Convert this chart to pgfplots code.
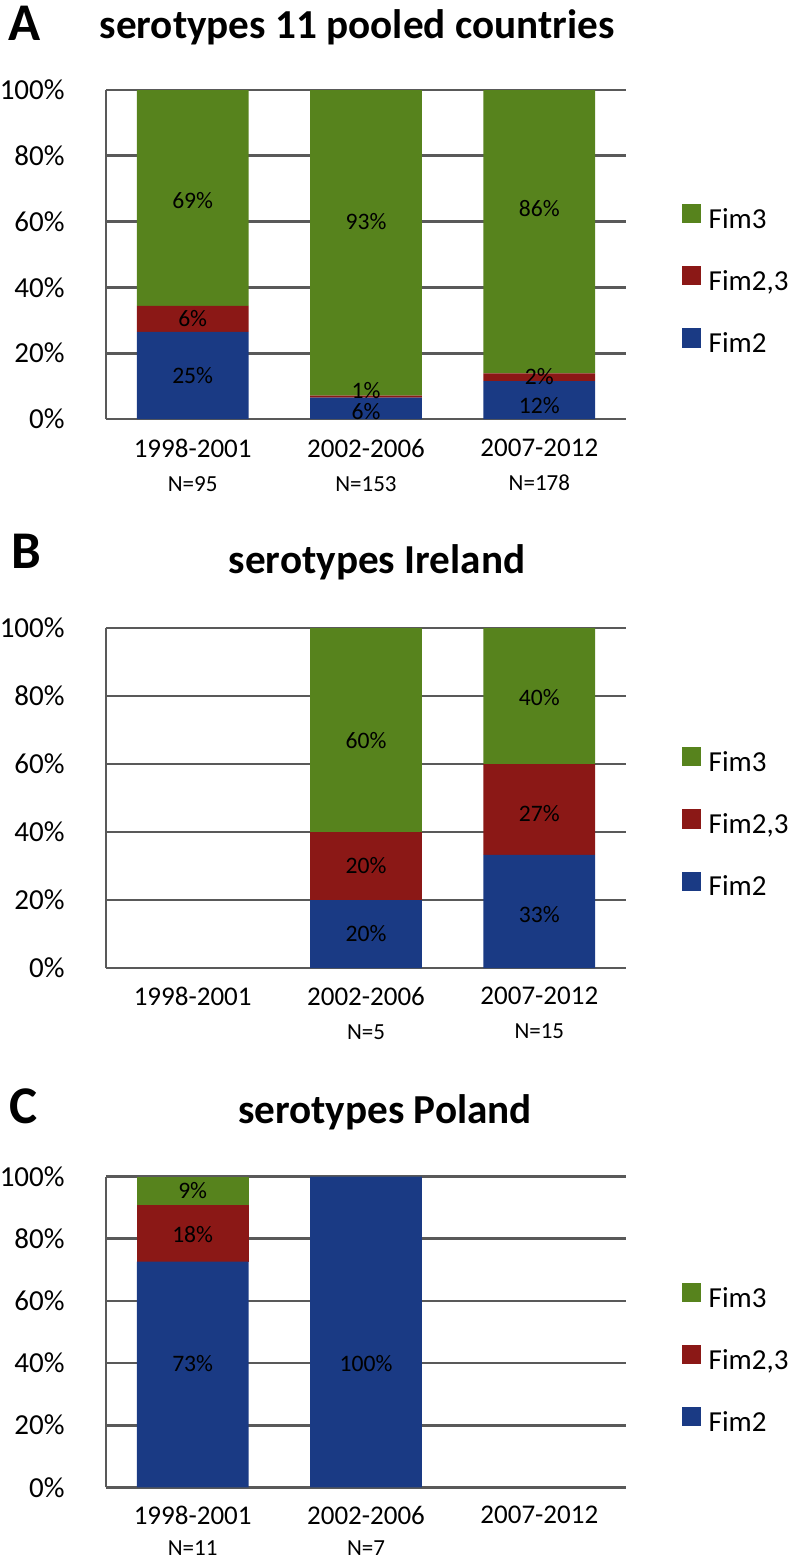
\documentclass[border=0pt]{standalone}
\usepackage{fontspec}
\setmainfont{Carlito}
\usepackage{pgfplots}
\pgfplotsset{compat=1.18}
\definecolor{fimgreen}{RGB}{87,131,29}
\definecolor{fimred}{RGB}{139,24,22}
\definecolor{fimblue}{RGB}{26,58,132}
\definecolor{gridc}{RGB}{89,89,89}
\newcommand\nsz{\fontsize{11.5}{17}\selectfont}
\newcommand\nszc{\fontsize{11.5}{15.5}\selectfont}
\pgfplotsset{
  fimlegend/.style={legend image code/.code={\fill[##1] (0pt,0pt) rectangle (9.6pt,9.6pt);}},
  fimaxis/.style={
    anchor=south west, scale only axis, width=260pt,
    xmin=-0.5, xmax=2.5, ymin=0, ymax=100,
    axis lines*=left,
    axis line style={draw=gridc, line width=1.4pt},
    ymajorgrids, grid style={draw=gridc, line width=1.4pt},
    xtick={0,1,2}, ytick={0,20,40,60,80,100},
    yticklabels={0\%,20\%,40\%,60\%,80\%,100\%},
    major tick length=0pt,
    yticklabel style={font=\fontsize{14.5}{16}\selectfont, anchor=east, inner sep=0pt, xshift=-20.5pt},
    xticklabel style={font=\fontsize{13.5}{17}\selectfont, align=center, anchor=north, inner sep=0pt},
    ybar stacked, bar width=0.645,
    clip=false,
    reverse legend, legend cell align=left,
    legend style={draw=none, fill=none, anchor=west, inner sep=0pt,
      font=\fontsize{14.5}{17}\selectfont, row sep=16.5pt, column sep=4pt,
      nodes={inner sep=0pt, text height=0.75em, text depth=0.25em}},
  },
  lblaxis/.style={
    anchor=south west, scale only axis, width=260pt,
    xmin=-0.5, xmax=2.5, ymin=0, ymax=100, hide axis, clip=false,
  },
  lblplot/.style={draw=none, mark=none, nodes near coords, point meta=explicit symbolic,
    every node near coord/.append style={font=\fontsize{11.8}{13}\selectfont, anchor=center, inner sep=0pt, text=black}},
}
\begin{document}
\begin{tikzpicture}
\useasboundingbox (0,0) rectangle (396pt,-779.5pt);
% ---------- Panel A ----------
\node[anchor=base west, inner sep=0pt, font=\fontsize{26.5}{30}\selectfont\bfseries] at (4pt,-20pt) {A};
\node[anchor=base, inner sep=0pt, font=\fontsize{20.6}{24}\selectfont\bfseries] at (178.5pt,-19pt) {serotypes 11 pooled countries};
\begin{axis}[fimaxis, at={(53pt,-209.5pt)}, height=164.5pt,
  xticklabel style={yshift=-9.7pt},
  xticklabels={{1998-2001\\\nsz N=95},{2002-2006\\\nsz N=153},{2007-2012\\\nsz N=178}},
  legend style={at={(1.106,0.42)}}]
\addplot[fill=fimblue, draw=none, fimlegend] coordinates {(0,26.5) (1,6.5) (2,11.5)};
\addlegendentry{Fim2}
\addplot[fill=fimred, draw=none, fimlegend] coordinates {(0,7.9) (1,0.6) (2,2.4)};
\addlegendentry{Fim2,3}
\addplot[fill=fimgreen, draw=none, fimlegend] coordinates {(0,65.6) (1,92.9) (2,86.1)};
\addlegendentry{Fim3}
\end{axis}
\begin{axis}[lblaxis, at={(53pt,-209.5pt)}, height=164.5pt]
\addplot[lblplot] coordinates {(0,13.2)[25\%] (0,30.4)[6\%] (0,66.5)[69\%]
  (1,2.3)[6\%] (1,8.7)[1\%] (1,60)[93\%]
  (2,4.0)[12\%] (2,12.9)[2\%] (2,64)[86\%]};
\end{axis}
% ---------- Panel B ----------
\node[anchor=base west, inner sep=0pt, font=\fontsize{26.5}{30}\selectfont\bfseries] at (5.5pt,-284pt) {B};
\node[anchor=base, inner sep=0pt, font=\fontsize{20.6}{24}\selectfont\bfseries] at (188.5pt,-286.5pt) {serotypes Ireland};
\begin{axis}[fimaxis, at={(53pt,-484pt)}, height=170pt,
  xticklabel style={yshift=-9.5pt},
  xticklabels={{1998-2001},{2002-2006\\\nsz N=5},{2007-2012\\\nsz N=15}},
  legend style={at={(1.106,0.4235)}}]
\addplot[fill=fimblue, draw=none, fimlegend] coordinates {(0,0) (1,20) (2,33.3)};
\addlegendentry{Fim2}
\addplot[fill=fimred, draw=none, fimlegend] coordinates {(0,0) (1,20) (2,26.7)};
\addlegendentry{Fim2,3}
\addplot[fill=fimgreen, draw=none, fimlegend] coordinates {(0,0) (1,60) (2,40)};
\addlegendentry{Fim3}
\end{axis}
\begin{axis}[lblaxis, at={(53pt,-484pt)}, height=170pt]
\addplot[lblplot] coordinates {(1,10)[20\%] (1,30)[20\%] (1,67)[60\%]
  (2,15.8)[33\%] (2,45.5)[27\%] (2,79.5)[40\%]};
\end{axis}
% ---------- Panel C ----------
\node[anchor=base west, inner sep=0pt, font=\fontsize{26.5}{30}\selectfont\bfseries] at (4.5pt,-561.5pt) {C};
\node[anchor=base, inner sep=0pt, font=\fontsize{20.6}{24}\selectfont\bfseries] at (192.5pt,-561.5pt) {serotypes Poland};
\begin{axis}[fimaxis, at={(53pt,-743.65pt)}, height=155.3pt,
  xticklabel style={yshift=-9.3pt, font=\fontsize{13.5}{15.5}\selectfont},
  xticklabels={{1998-2001\\\nszc N=11},{2002-2006\\\nszc N=7},{2007-2012}},
  legend style={at={(1.106,0.411)}}]
\addplot[fill=fimblue, draw=none, fimlegend] coordinates {(0,72.7) (1,100) (2,0)};
\addlegendentry{Fim2}
\addplot[fill=fimred, draw=none, fimlegend] coordinates {(0,18.2) (1,0) (2,0)};
\addlegendentry{Fim2,3}
\addplot[fill=fimgreen, draw=none, fimlegend] coordinates {(0,9.1) (1,0) (2,0)};
\addlegendentry{Fim3}
\end{axis}
\begin{axis}[lblaxis, at={(53pt,-743.65pt)}, height=155.3pt]
\addplot[lblplot] coordinates {(0,39.7)[73\%] (0,81.5)[18\%] (0,95.4)[9\%] (1,40)[100\%]};
\end{axis}
\end{tikzpicture}
\end{document}
